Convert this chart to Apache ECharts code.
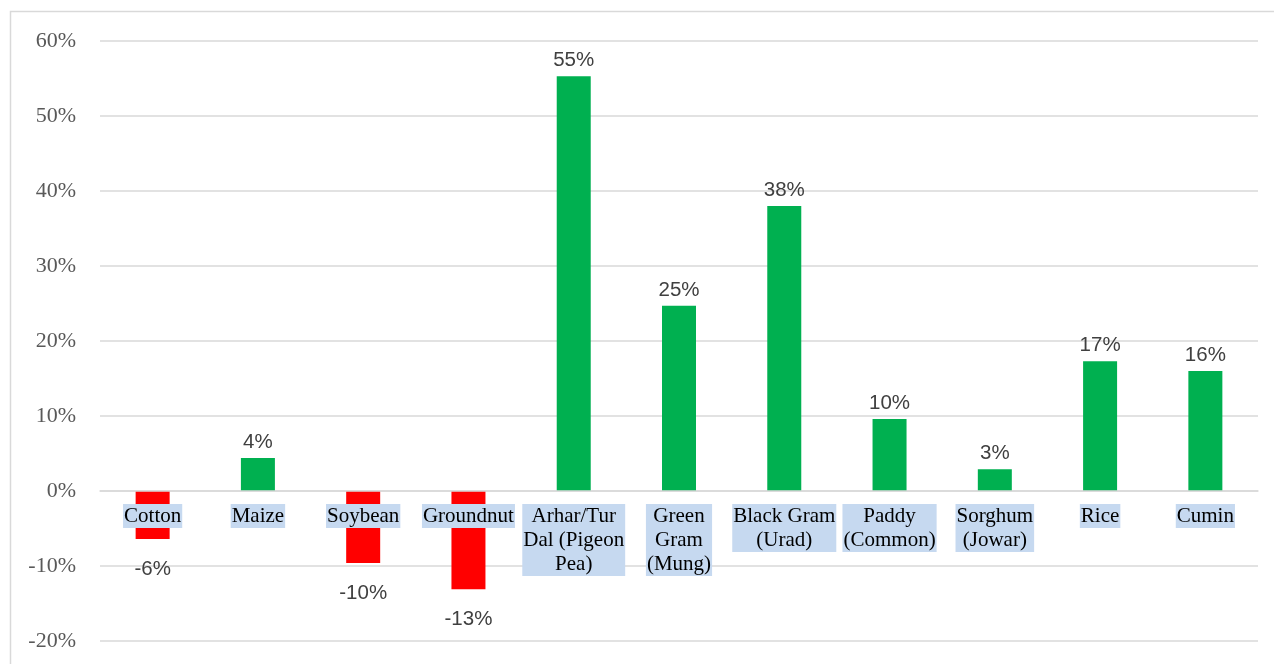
<!DOCTYPE html>
<html>
<head>
<meta charset="utf-8">
<script src="https://cdn.jsdelivr.net/npm/echarts@6/dist/echarts.min.js"></script>
<style>
html,body{margin:0;padding:0;background:#fff;}
#chart{width:1274px;height:664px;}
</style>
</head>
<body>
<div id="chart"></div>
<script>
const categories = ['Cotton', 'Maize', 'Soybean', 'Groundnut', 'Arhar/Tur\nDal (Pigeon\nPea)', 'Green\nGram\n(Mung)', 'Black Gram\n(Urad)', 'Paddy\n(Common)', 'Sorghum\n(Jowar)', 'Rice', 'Cumin'];
const values = [-6.4, 4.4, -9.6, -13.1, 55.3, 24.7, 38.0, 9.6, 2.9, 17.3, 16.0];
const yTicks = { min: -20, max: 60, interval: 10 };

const gridTop = 41, gridBottom = 23, H = 664;
const plotH = H - gridTop - gridBottom;
// move the category axis up to the zero line of the value axis
const zeroOffset = -plotH * (0 - yTicks.min) / (yTicks.max - yTicks.min);

const chart = echarts.init(document.getElementById('chart'));
const data = values.map(v => ({
  value: v,
  itemStyle: { color: v < 0 ? '#ff0000' : '#00b050' },
  label: v < 0 ? { position: 'bottom', distance: 20 } : { position: 'top', distance: 5 }
}));

chart.setOption({
  animation: false,
  backgroundColor: '#ffffff',
  graphic: [{
    type: 'rect',
    shape: { x: 10.5, y: 11.5, width: 1300, height: 700 },
    style: { fill: 'none', stroke: '#d9d9d9', lineWidth: 1.5 },
    silent: true
  }],
  grid: { left: 100, right: 16, top: gridTop, bottom: gridBottom, containLabel: false, outerBoundsMode: 'none' },
  xAxis: {
    type: 'category',
    data: categories,
    z: 5,
    offset: zeroOffset,
    axisLine: { show: true, onZero: false, lineStyle: { color: '#d9d9d9', width: 1.5 } },
    axisTick: { show: false },
    axisLabel: {
      interval: 0,
      margin: 13,
      fontFamily: '"Liberation Serif", "Times New Roman", serif',
      fontSize: 21,
      color: '#000000',
      lineHeight: 24,
      align: 'center',
      backgroundColor: '#c6d9f0',
      padding: [0, 1]
    }
  },
  yAxis: {
    type: 'value',
    min: yTicks.min,
    max: yTicks.max,
    interval: yTicks.interval,
    axisLine: { show: false },
    axisTick: { show: false },
    splitLine: { lineStyle: { color: '#d9d9d9', width: 1.5 } },
    axisLabel: {
      formatter: '{value}%',
      margin: 24,
      fontFamily: '"Liberation Serif", "Times New Roman", serif',
      fontSize: 22,
      color: '#595959'
    }
  },
  series: [{
    type: 'bar',
    data: data,
    barWidth: 34,
    label: {
      show: true,
      formatter: p => Math.round(p.value) + '%',
      fontFamily: '"Liberation Sans", Arial, sans-serif',
      fontSize: 20.5,
      color: '#404040'
    }
  }]
});
</script>
</body>
</html>
